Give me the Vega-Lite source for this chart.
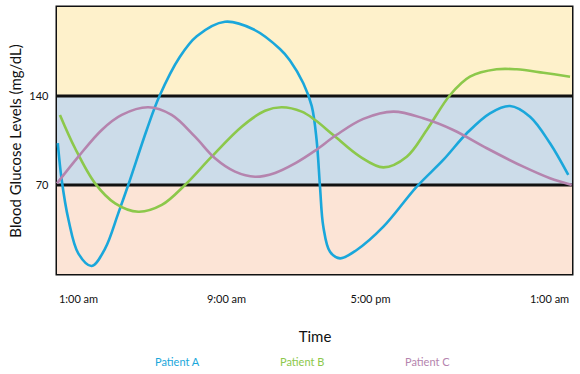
{
  "$schema": "https://vega.github.io/schema/vega-lite/v6.json",
  "width": 515,
  "height": 267,
  "autosize": {"type": "none"},
  "padding": {"left": 57, "top": 7, "right": 8, "bottom": 100},
  "background": "white",
  "config": {
    "view": {"stroke": "#111111", "strokeWidth": 3},
    "font": "Lato",
    "axis": {"labelFont": "Lato", "titleFont": "Lato", "labelColor": "#111111", "titleColor": "#111111", "titleFontWeight": "normal"}
  },
  "datasets": {
    "zones": [
      {"lo": 0, "hi": 70, "zone": "low"},
      {"lo": 70, "hi": 140, "zone": "normal"},
      {"lo": 140, "hi": 210, "zone": "high"}
    ],
    "limits": [{"v": 70}, {"v": 140}],
    "glucose": [
      {"patient": "Patient A", "hour": -1.03, "value": 103.0},
      {"patient": "Patient A", "hour": -0.83, "value": 73.9},
      {"patient": "Patient A", "hour": -0.49, "value": 43.0},
      {"patient": "Patient A", "hour": 0.02, "value": 16.0},
      {"patient": "Patient A", "hour": 0.7, "value": 6.3},
      {"patient": "Patient A", "hour": 1.38, "value": 20.0},
      {"patient": "Patient A", "hour": 2.05, "value": 47.7},
      {"patient": "Patient A", "hour": 2.56, "value": 70.0},
      {"patient": "Patient A", "hour": 3.5, "value": 113.3},
      {"patient": "Patient A", "hour": 4.13, "value": 139.2},
      {"patient": "Patient A", "hour": 5.2, "value": 171.0},
      {"patient": "Patient A", "hour": 6.05, "value": 187.0},
      {"patient": "Patient A", "hour": 7.49, "value": 198.4},
      {"patient": "Patient A", "hour": 8.93, "value": 192.5},
      {"patient": "Patient A", "hour": 10.29, "value": 177.0},
      {"patient": "Patient A", "hour": 10.8, "value": 168.0},
      {"patient": "Patient A", "hour": 11.48, "value": 150.0},
      {"patient": "Patient A", "hour": 11.91, "value": 132.0},
      {"patient": "Patient A", "hour": 12.16, "value": 105.0},
      {"patient": "Patient A", "hour": 12.33, "value": 68.7},
      {"patient": "Patient A", "hour": 12.5, "value": 37.2},
      {"patient": "Patient A", "hour": 12.84, "value": 17.5},
      {"patient": "Patient A", "hour": 13.35, "value": 12.3},
      {"patient": "Patient A", "hour": 14.2, "value": 18.9},
      {"patient": "Patient A", "hour": 15.56, "value": 37.2},
      {"patient": "Patient A", "hour": 17.26, "value": 68.7},
      {"patient": "Patient A", "hour": 18.61, "value": 89.7},
      {"patient": "Patient A", "hour": 19.81, "value": 110.7},
      {"patient": "Patient A", "hour": 20.99, "value": 126.4},
      {"patient": "Patient A", "hour": 22.01, "value": 132.1},
      {"patient": "Patient A", "hour": 23.03, "value": 123.7},
      {"patient": "Patient A", "hour": 24.05, "value": 102.8},
      {"patient": "Patient A", "hour": 24.98, "value": 77.9},
      {"patient": "Patient B", "hour": -0.92, "value": 125.1},
      {"patient": "Patient B", "hour": -0.15, "value": 98.9},
      {"patient": "Patient B", "hour": 0.87, "value": 71.3},
      {"patient": "Patient B", "hour": 1.89, "value": 55.6},
      {"patient": "Patient B", "hour": 3.07, "value": 49.0},
      {"patient": "Patient B", "hour": 4.27, "value": 54.3},
      {"patient": "Patient B", "hour": 5.45, "value": 70.0},
      {"patient": "Patient B", "hour": 6.81, "value": 92.3},
      {"patient": "Patient B", "hour": 8.34, "value": 115.9},
      {"patient": "Patient B", "hour": 9.53, "value": 128.4},
      {"patient": "Patient B", "hour": 10.38, "value": 131.1},
      {"patient": "Patient B", "hour": 11.4, "value": 127.7},
      {"patient": "Patient B", "hour": 12.08, "value": 121.1},
      {"patient": "Patient B", "hour": 13.01, "value": 109.3},
      {"patient": "Patient B", "hour": 14.37, "value": 92.3},
      {"patient": "Patient B", "hour": 15.56, "value": 83.9},
      {"patient": "Patient B", "hour": 16.75, "value": 92.3},
      {"patient": "Patient B", "hour": 17.77, "value": 113.3},
      {"patient": "Patient B", "hour": 18.96, "value": 140.8},
      {"patient": "Patient B", "hour": 19.97, "value": 155.2},
      {"patient": "Patient B", "hour": 21.33, "value": 161.0},
      {"patient": "Patient B", "hour": 22.35, "value": 161.0},
      {"patient": "Patient B", "hour": 23.71, "value": 158.3},
      {"patient": "Patient B", "hour": 25.07, "value": 155.2},
      {"patient": "Patient C", "hour": -1.07, "value": 71.3},
      {"patient": "Patient C", "hour": 0.02, "value": 92.3},
      {"patient": "Patient C", "hour": 1.21, "value": 113.3},
      {"patient": "Patient C", "hour": 2.23, "value": 125.1},
      {"patient": "Patient C", "hour": 3.58, "value": 131.1},
      {"patient": "Patient C", "hour": 4.77, "value": 125.1},
      {"patient": "Patient C", "hour": 5.96, "value": 108.0},
      {"patient": "Patient C", "hour": 6.98, "value": 91.0},
      {"patient": "Patient C", "hour": 8.0, "value": 80.5},
      {"patient": "Patient C", "hour": 9.02, "value": 76.5},
      {"patient": "Patient C", "hour": 10.04, "value": 79.5},
      {"patient": "Patient C", "hour": 11.06, "value": 87.0},
      {"patient": "Patient C", "hour": 12.08, "value": 97.0},
      {"patient": "Patient C", "hour": 13.18, "value": 109.5},
      {"patient": "Patient C", "hour": 14.54, "value": 122.0},
      {"patient": "Patient C", "hour": 16.07, "value": 127.7},
      {"patient": "Patient C", "hour": 17.59, "value": 122.5},
      {"patient": "Patient C", "hour": 19.12, "value": 113.3},
      {"patient": "Patient C", "hour": 20.83, "value": 98.9},
      {"patient": "Patient C", "hour": 22.69, "value": 84.4},
      {"patient": "Patient C", "hour": 24.05, "value": 75.3},
      {"patient": "Patient C", "hour": 25.16, "value": 70.0}
    ]
  },
  "layer": [
    {
      "data": {"name": "zones"},
      "mark": {"type": "rect"},
      "encoding": {
        "y": {"field": "lo", "type": "quantitative", "scale": {"domain": [0, 210], "nice": false, "zero": false},
          "axis": {"values": [70, 140], "ticks": false, "domain": false, "grid": false, "labelFontSize": 11, "labelPadding": 9,
            "title": "Blood Glucose Levels (mg/dL)", "titleFontSize": 15, "titlePadding": 5}},
        "y2": {"field": "hi"},
        "fill": {"field": "zone", "type": "nominal", "legend": null,
          "scale": {"domain": ["low", "normal", "high"], "range": ["#FCE4D6", "#CCDCE9", "#FEF1CB"]}}
      }
    },
    {
      "data": {"name": "limits"},
      "mark": {"type": "rule", "color": "#111111", "strokeWidth": 3},
      "encoding": {"y": {"field": "v", "type": "quantitative"}}
    },
    {
      "data": {"name": "glucose"},
      "mark": {"type": "line", "interpolate": "catmull-rom", "strokeWidth": 2.6},
      "encoding": {
        "x": {"field": "hour", "type": "quantitative", "scale": {"domain": [-1.07, 25.17], "nice": false, "zero": false},
          "axis": {"values": [0, 7.54, 14.88, 24], "ticks": false, "domain": false, "grid": false, "labelFontSize": 11, "labelPadding": 19,
            "labelExpr": "datum.value < 1 ? '1:00 am' : datum.value < 10 ? '9:00 am' : datum.value < 20 ? '5:00 pm' : '1:00 am'",
            "title": "Time", "titleFontSize": 15, "titlePadding": 25}},
        "y": {"field": "value", "type": "quantitative"},
        "color": {"field": "patient", "type": "nominal",
          "scale": {"domain": ["Patient A", "Patient B", "Patient C"], "range": ["#1AA7DB", "#8CC84B", "#B584AE"]},
          "legend": {"title": null, "orient": "none", "direction": "horizontal", "legendX": 87, "legendY": 350,
            "symbolSize": 0, "symbolStrokeWidth": 0, "symbolOpacity": 0, "labelOffset": 0, "columnPadding": 69,
            "labelFontSize": 11, "labelFont": "Lato",
            "labelColor": {"expr": "scale('color', datum.value)"}}}
      }
    }
  ]
}
